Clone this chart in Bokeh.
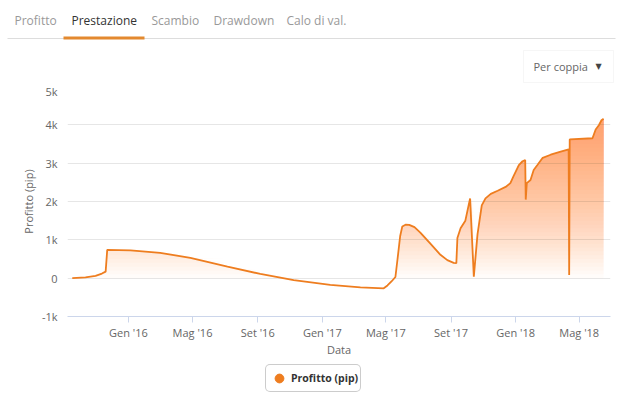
import numpy as np
import pandas as pd
from bokeh.plotting import figure
from bokeh.layouts import column
from bokeh.models import (FixedTicker, Label, BoxAnnotation, Legend, LegendItem,
                          Range1d, Plot)
from bokeh.embed import file_html
from bokeh.resources import INLINE

# ---------------- data ----------------
dates = [
    "2015-09-17", "2015-10-12", "2015-10-31", "2015-11-12", "2015-11-19",
    "2015-11-22", "2016-01-05", "2016-03-01", "2016-04-27", "2016-07-06",
    "2016-09-06", "2016-11-08", "2017-01-16", "2017-03-14", "2017-04-27",
    "2017-05-04", "2017-05-12", "2017-05-19", "2017-05-23", "2017-05-28",
    "2017-06-01", "2017-06-07", "2017-06-14", "2017-06-24", "2017-07-05",
    "2017-07-24", "2017-08-12", "2017-08-25", "2017-09-06", "2017-09-11",
    "2017-09-13", "2017-09-19", "2017-09-28", "2017-10-07", "2017-10-14",
    "2017-10-21", "2017-10-29", "2017-11-05", "2017-11-15", "2017-11-28",
    "2017-12-13", "2017-12-22", "2017-12-28", "2018-01-07", "2018-01-14",
    "2018-01-19", "2018-01-20", "2018-01-22", "2018-01-29", "2018-02-04",
    "2018-02-11", "2018-02-21", "2018-03-08", "2018-03-27", "2018-04-11",
    "2018-04-12", "2018-04-13", "2018-05-26", "2018-06-01", "2018-06-07",
    "2018-06-12", "2018-06-16",
]
profit = [
    0, 20, 60, 120, 170,
    740, 725, 660, 530, 300,
    110, -50, -175, -240, -265,
    -190, -80, 30, 500, 1100,
    1350, 1395, 1390, 1330, 1190,
    900, 610, 470, 400, 390,
    1050, 1300, 1500, 2080, 40,
    1150, 1900, 2080, 2200, 2280,
    2380, 2480, 2660, 2950, 3050,
    3080, 2050, 2480, 2560, 2820,
    2950, 3140, 3220, 3300, 3360,
    80, 3620, 3650, 3880, 3990,
    4120, 4160,
]
tick_dates = ["2016-01-01", "2016-05-01", "2016-09-01", "2017-01-01",
              "2017-05-01", "2017-09-01", "2018-01-01", "2018-05-01"]
tick_labels = ["Gen '16", "Mag '16", "Set '16", "Gen '17",
               "Mag '17", "Set '17", "Gen '18", "Mag '18"]
y_ticks = [-1000, 0, 1000, 2000, 3000, 4000, 5000]
y_tick_labels = ["-1k", "0", "1k", "2k", "3k", "4k", "5k"]
tabs = ["Profitto", "Prestazione", "Scambio", "Drawdown", "Calo di val."]
active_tab = "Prestazione"
dropdown_text = "Per coppia"
series_name = "Profitto (pip)"
x_title = "Data"
y_title = "Profitto (pip)"
x_start, x_end = "2015-09-08", "2018-06-29"


def ms(s):
    return pd.Timestamp(s).value / 1e6


x = np.array([ms(d) for d in dates])
y = np.array(profit, dtype=float)

FONT = "Open Sans"
ORANGE = "#EE7D1F"
FILL = "#F5892E"
W = 616
HEAD_H, MAIN_H, FOOT_H = 83, 277, 44
HAS_FRAME_ALIGN = "frame_align" in Plot.properties()


def no_align(f):
    if HAS_FRAME_ALIGN:
        f.frame_align = False
    return f


def blank(h):
    f = figure(width=W, height=h, output_backend="svg", toolbar_location=None,
               x_range=Range1d(0, W), y_range=Range1d(h, 0),
               x_axis_location=None, y_axis_location=None,
               min_border_left=0, min_border_right=0,
               min_border_top=0, min_border_bottom=0)
    f.outline_line_color = None
    f.grid.grid_line_color = None
    f.background_fill_color = "white"
    f.border_fill_color = "white"
    return no_align(f)


# ---------------- header: tabs + dropdown ----------------
head = blank(HEAD_H)
tab_x = [14, 71, 151, 213, 286]
for tx, name in zip(tab_x, tabs):
    head.add_layout(Label(x=tx, y=20, text=name, text_font=FONT,
                          text_font_size="12px",
                          text_color="#333333" if name == active_tab else "#999999",
                          text_baseline="middle", text_align="left"))
head.add_layout(BoxAnnotation(left=7, right=615, top=37.5, bottom=38.5,
                              fill_color="#dddddd", fill_alpha=1, line_color=None))
head.add_layout(BoxAnnotation(left=63, right=144, top=36, bottom=39,
                              fill_color="#E3892F", fill_alpha=1, line_color=None))
head.add_layout(BoxAnnotation(left=523, right=613, top=50, bottom=82,
                              fill_color="white", fill_alpha=1,
                              line_color="#e0e0e0", line_width=1))
head.add_layout(Label(x=533, y=66, text=dropdown_text, text_font=FONT,
                      text_font_size="11px", text_color="#666666",
                      text_baseline="middle"))
head.add_layout(Label(x=598, y=66, text="▼", text_font="DejaVu Sans",
                      text_font_size="8px", text_color="#444444",
                      text_baseline="middle", text_align="center"))

# ---------------- main chart ----------------
p = figure(width=W, height=MAIN_H, output_backend="svg", toolbar_location=None,
           x_range=Range1d(ms(x_start), ms(x_end)),
           y_range=Range1d(-1000, 5000),
           min_border_left=67, min_border_right=6,
           min_border_top=3, min_border_bottom=44)
p.outline_line_color = None
p.background_fill_color = "white"
p.border_fill_color = "white"
no_align(p)

# gradient fill built from stacked translucent layers
top = 4200.0
n_layers = 42
alpha = 1 - 0.38 ** (1.0 / n_layers)
for k in range(n_layers):
    t = k * top / n_layers
    p.varea(x=x, y1=np.full_like(y, t), y2=np.maximum(y, t),
            fill_color=FILL, fill_alpha=alpha)

p.line(x, y, line_color=ORANGE, line_width=1.8)

xa = p.xaxis[0]
xa.ticker = FixedTicker(ticks=[ms(d) for d in tick_dates])
xa.major_label_overrides = {int(ms(d)): lab for d, lab in zip(tick_dates, tick_labels)}
xa.minor_tick_line_color = None
xa.axis_line_color = "#ccd6eb"
xa.major_tick_line_color = "#ccd6eb"
xa.major_tick_out = 6
xa.major_tick_in = 0
xa.major_label_standoff = 2
xa.major_label_text_font = FONT
xa.major_label_text_font_size = "11px"
xa.major_label_text_color = "#666666"
xa.axis_label = x_title
xa.axis_label_text_font = FONT
xa.axis_label_text_font_size = "11px"
xa.axis_label_text_font_style = "normal"
xa.axis_label_text_color = "#666666"
xa.axis_label_standoff = -1

ya = p.yaxis[0]
ya.ticker = FixedTicker(ticks=y_ticks)
ya.major_label_overrides = {v: lab for v, lab in zip(y_ticks, y_tick_labels)}
ya.minor_tick_line_color = None
ya.major_tick_line_color = None
ya.axis_line_color = None
ya.major_tick_out = 0
ya.major_tick_in = 0
ya.major_label_standoff = 10
ya.major_label_text_font = FONT
ya.major_label_text_font_size = "11px"
ya.major_label_text_color = "#666666"
ya.axis_label = y_title
ya.axis_label_text_font = FONT
ya.axis_label_text_font_size = "11px"
ya.axis_label_text_font_style = "normal"
ya.axis_label_text_color = "#666666"
ya.axis_label_standoff = 3

p.xgrid.grid_line_color = None
p.ygrid.grid_line_color = "#e6e6e6"
p.ygrid.grid_line_width = 1

# ---------------- footer: legend ----------------
foot = blank(FOOT_H)
# legend-only renderer: its single point is the first data point, far outside this panel's range
dummy = foot.scatter(x=[x[0]], y=[y[0]], marker="circle", size=10,
                     fill_color=ORANGE, line_color=ORANGE)
legend = Legend(items=[LegendItem(label=series_name, renderers=[dummy])],
                location=(265, HEAD_H + MAIN_H + FOOT_H - 392),
                orientation="horizontal",
                glyph_width=22, glyph_height=22, padding=2, margin=0,
                label_standoff=1, label_height=13,
                label_text_font=FONT, label_text_font_size="10.5px",
                label_text_font_style="bold", label_text_color="#333333",
                border_line_color="#999999", border_line_width=1,
                background_fill_color="white", background_fill_alpha=1)
if "border_radius" in Legend.properties():
    legend.border_radius = 5
foot.add_layout(legend)

layout = column(head, p, foot, spacing=0)
open("out.html", "w").write(file_html(layout, INLINE))
